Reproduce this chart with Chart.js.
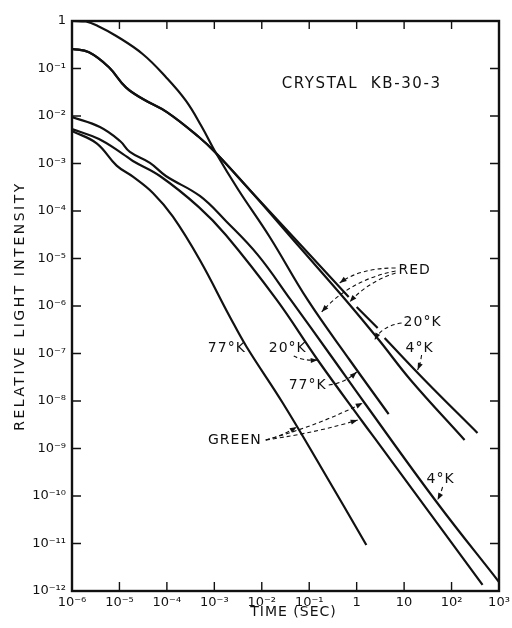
<!DOCTYPE html>
<html>
<head>
<meta charset="utf-8">
<script src="https://cdn.jsdelivr.net/npm/chart.js@4.4.0/dist/chart.umd.min.js"></script>
<style>
  html, body { margin: 0; padding: 0; background: #fff; }
</style>
</head>
<body>
<canvas id="chart" width="512" height="628"></canvas>
<script>
const ink = '#111'
const face = '"DejaVu Sans", "Liberation Sans", sans-serif'

// axis ticks
const timeTicks = [1e-6, 1e-5, 1e-4, 1e-3, 1e-2, 1e-1, 1, 10, 100, 1000]
const timeTickLabels = ['10⁻⁶', '10⁻⁵', '10⁻⁴', '10⁻³', '10⁻²', '10⁻¹', '1', '10', '10²', '10³']
const intensityTicks = [1e-12, 1e-11, 1e-10, 1e-9, 1e-8, 1e-7, 1e-6, 1e-5, 1e-4, 1e-3, 1e-2, 1e-1, 1]
const intensityTickLabels = ['10⁻¹²', '10⁻¹¹', '10⁻¹⁰', '10⁻⁹', '10⁻⁸', '10⁻⁷', '10⁻⁶', '10⁻⁵', '10⁻⁴', '10⁻³', '10⁻²', '10⁻¹', '1']

// red light, 77 K
const red77Time = [1e-6, 1.97e-6, 3.76e-6, 8.4e-6, 3.08e-5, 9.5e-5, 2.51e-4, 5.4e-4, 1.08e-3, 3.2e-3, 1.47e-2, 9.29e-2, 0.713, 4.72]
const red77Int  = [1, 0.976, 0.759, 0.49, 0.202, 0.0662, 0.021, 6.0e-3, 1.66e-3, 2.8e-4, 2.84e-5, 1.34e-6, 7.3e-8, 5.3e-9]

// red 20 K and 4 K run together at first
const redLowTime = [1e-6, 2.28e-6, 6.0e-6, 1.37e-5, 3.12e-5, 1.0e-4, 4.72e-4, 1.08e-3, 5.58e-3]
const redLowInt  = [0.26, 0.219, 0.106, 0.04, 0.0228, 0.0121, 3.61e-3, 1.66e-3, 2.77e-4]

const red20Time = [5.73e-2, 0.586, 2.95, 13.7, 188]
const red20Int  = [1.92e-5, 1.34e-6, 1.92e-7, 2.77e-8, 1.51e-9]

// null = break in the line where an arrow crosses it
const red4Time = [6.62e-2, 0.679, 0.82, 1.0, 2.77, 3.3, 3.88, 27, 352]
const red4Int  = [1.92e-5, 1.55e-6, null, 9.5e-7, 3.44e-7, null, 2.12e-7, 2.77e-8, 2.12e-9]

// green light
const green4Time = [1e-6, 3.88e-6, 1.03e-5, 1.66e-5, 4.39e-5, 9.52e-5, 4.95e-4, 1.75e-3, 8.24e-3, 4.08e-2, 0.27, 1.47, 48.3, 1000]
const green4Int  = [9.5e-3, 5.86e-3, 2.98e-3, 1.75e-3, 1.03e-3, 5.46e-4, 2.07e-4, 6.16e-5, 1.19e-5, 1.34e-6, 9.76e-8, 9.07e-9, 7.48e-11, 1.55e-12]

const green20Time = [1e-6, 3.7e-6, 1.19e-5, 1.92e-5, 7.13e-5, 4.72e-4, 1.75e-3, 2.07e-2, 0.151, 1.34, 3.05, 450]
const green20Int  = [5.32e-3, 3.28e-3, 1.58e-3, 1.13e-3, 5.46e-4, 1.21e-4, 3.12e-5, 1.34e-6, 7.3e-8, 3.61e-9, 1.19e-9, 1.34e-12]

const green77Time = [1e-6, 3.31e-6, 8.73e-6, 1.92e-5, 5.07e-5, 1.34e-4, 4.95e-4, 2.12e-3, 4.77e-3, 2.77e-2, 0.175, 1.6]
const green77Int  = [4.83e-3, 2.66e-3, 9.0e-4, 5.27e-4, 2.39e-4, 7.59e-5, 9.29e-6, 5.96e-7, 1.39e-7, 9.08e-9, 4.14e-10, 9.3e-12]

// labels and dashed arrows, placed in decades [log10 t, log10 I]
const notes = [
  { text: 'CRYSTAL  KB-30-3', at: [0.105, -1.326], size: 15, spacing: '1.6px' },
  { text: 'RED', at: [1.221, -5.242] },
  { text: '20°K', at: [1.389, -6.337] },
  { text: '4°K', at: [1.326, -6.884] },
  { text: '77°K', at: [-2.737, -6.884] },
  { text: '20°K', at: [-1.453, -6.884] },
  { text: '77°K', at: [-1.032, -7.663] },
  { text: 'GREEN', at: [-2.568, -8.821] },
  { text: '4°K', at: [1.768, -9.642] }
]
const arrows = [
  [[0.821, -5.2], [0.063, -5.2], [-0.358, -5.516]],
  [[0.821, -5.263], [-0.147, -5.453], [-0.737, -6.126]],
  [[0.821, -5.305], [0.232, -5.495], [-0.147, -5.916]],
  [[0.947, -6.358], [0.526, -6.421], [0.379, -6.716]],
  [[1.368, -7.032], [1.347, -7.2], [1.284, -7.347]],
  [[-1.326, -7.053], [-1.137, -7.158], [-0.821, -7.137]],
  [[-0.589, -7.663], [-0.253, -7.621], [0.0, -7.389]],
  [[-1.916, -8.821], [-1.579, -8.737], [-1.263, -8.547]],
  [[-1.916, -8.821], [-0.779, -8.505], [0.126, -8.042]],
  [[-1.916, -8.821], [-0.779, -8.653], [0.021, -8.4]],
  [[1.811, -9.811], [1.768, -9.958], [1.705, -10.084]]
]

const pts = (ts, is) => ts.map((t, k) => ({ x: t, y: is[k] }))
const curve = (label, ts, is) => ({
  label,
  data: pts(ts, is),
  borderColor: ink,
  borderWidth: 2.2,
  pointRadius: 0,
  fill: false,
  spanGaps: false,
  tension: 0.4
})

const decor = {
  id: 'decor',
  afterDraw(chart) {
    const { ctx, chartArea: a, scales: { x, y } } = chart
    const at = ([lx, ly]) => [x.getPixelForValue(10 ** lx), y.getPixelForValue(10 ** ly)]
    ctx.save()
    ctx.strokeStyle = ink
    ctx.fillStyle = ink

    // frame with inward ticks
    ctx.lineWidth = 2.4
    ctx.strokeRect(a.left, a.top, a.right - a.left, a.bottom - a.top)
    ctx.lineWidth = 1.4
    ctx.beginPath()
    timeTicks.forEach(v => {
      const px = x.getPixelForValue(v)
      ctx.moveTo(px, a.bottom); ctx.lineTo(px, a.bottom - 9)
      ctx.moveTo(px, a.top); ctx.lineTo(px, a.top + 8)
    })
    intensityTicks.forEach(v => {
      const py = y.getPixelForValue(v)
      ctx.moveTo(a.left, py); ctx.lineTo(a.left + 9, py)
      ctx.moveTo(a.right, py); ctx.lineTo(a.right - 9, py)
    })
    ctx.stroke()

    // dashed arrows
    ctx.lineWidth = 1.1
    arrows.forEach(([s, c, e]) => {
      const [sx, sy] = at(s), [cx, cy] = at(c), [ex, ey] = at(e)
      ctx.setLineDash([4, 3])
      ctx.beginPath()
      ctx.moveTo(sx, sy)
      ctx.quadraticCurveTo(cx, cy, ex, ey)
      ctx.stroke()
      ctx.setLineDash([])
      const ang = Math.atan2(ey - cy, ex - cx)
      const cs = Math.cos(ang), sn = Math.sin(ang)
      ctx.beginPath()
      ctx.moveTo(ex, ey)
      ctx.lineTo(ex - 7 * cs + 2.6 * sn, ey - 7 * sn - 2.6 * cs)
      ctx.lineTo(ex - 7 * cs - 2.6 * sn, ey - 7 * sn + 2.6 * cs)
      ctx.closePath()
      ctx.fill()
    })

    // labels
    ctx.textAlign = 'center'
    ctx.textBaseline = 'middle'
    notes.forEach(n => {
      const [px, py] = at(n.at)
      ctx.font = (n.size || 14) + 'px ' + face
      ctx.letterSpacing = n.spacing || '1px'
      ctx.fillText(n.text, px, py)
    })

    // axis titles
    ctx.font = '14px ' + face
    ctx.letterSpacing = '1px'
    ctx.fillText('TIME (SEC)', (a.left + a.right) / 2 + 8, a.bottom + 21)
    ctx.translate(20, (a.top + a.bottom) / 2)
    ctx.rotate(-Math.PI / 2)
    ctx.letterSpacing = '2.5px'
    ctx.fillText('RELATIVE LIGHT INTENSITY', 0, 0)
    ctx.restore()
  }
}

new Chart(document.getElementById('chart'), {
  type: 'line',
  data: {
    datasets: [
      curve('Red 77°K', red77Time, red77Int),
      curve('Red 20°K', redLowTime.concat(red20Time), redLowInt.concat(red20Int)),
      curve('Red 4°K', redLowTime.concat(red4Time), redLowInt.concat(red4Int)),
      curve('Green 4°K', green4Time, green4Int),
      curve('Green 20°K', green20Time, green20Int),
      curve('Green 77°K', green77Time, green77Int)
    ]
  },
  options: {
    responsive: false,
    animation: false,
    layout: { padding: { top: 21, right: 13, left: 0, bottom: 0 } },
    plugins: { legend: { display: false }, tooltip: { enabled: false } },
    scales: {
      x: {
        type: 'logarithmic',
        min: 1e-6,
        max: 1e3,
        afterBuildTicks: s => { s.ticks = timeTicks.map(v => ({ value: v })) },
        afterFit: s => { s.height = 37; s.paddingLeft = 0; s.paddingRight = 0 },
        grid: { display: false, drawTicks: false },
        border: { display: false },
        ticks: {
          padding: 4,
          autoSkip: false,
          maxRotation: 0,
          color: ink,
          font: { family: face, size: 13 },
          callback: v => timeTickLabels[timeTicks.indexOf(v)]
        }
      },
      y: {
        type: 'logarithmic',
        min: 1e-12,
        max: 1,
        afterBuildTicks: s => { s.ticks = intensityTicks.map(v => ({ value: v })) },
        afterFit: s => { s.width = 72; s.paddingTop = 0; s.paddingBottom = 0 },
        grid: { display: false, drawTicks: false },
        border: { display: false },
        ticks: {
          padding: 6,
          autoSkip: false,
          color: ink,
          font: { family: face, size: 13 },
          callback: v => intensityTickLabels[intensityTicks.indexOf(v)]
        }
      }
    }
  },
  plugins: [decor]
})
</script>
</body>
</html>
